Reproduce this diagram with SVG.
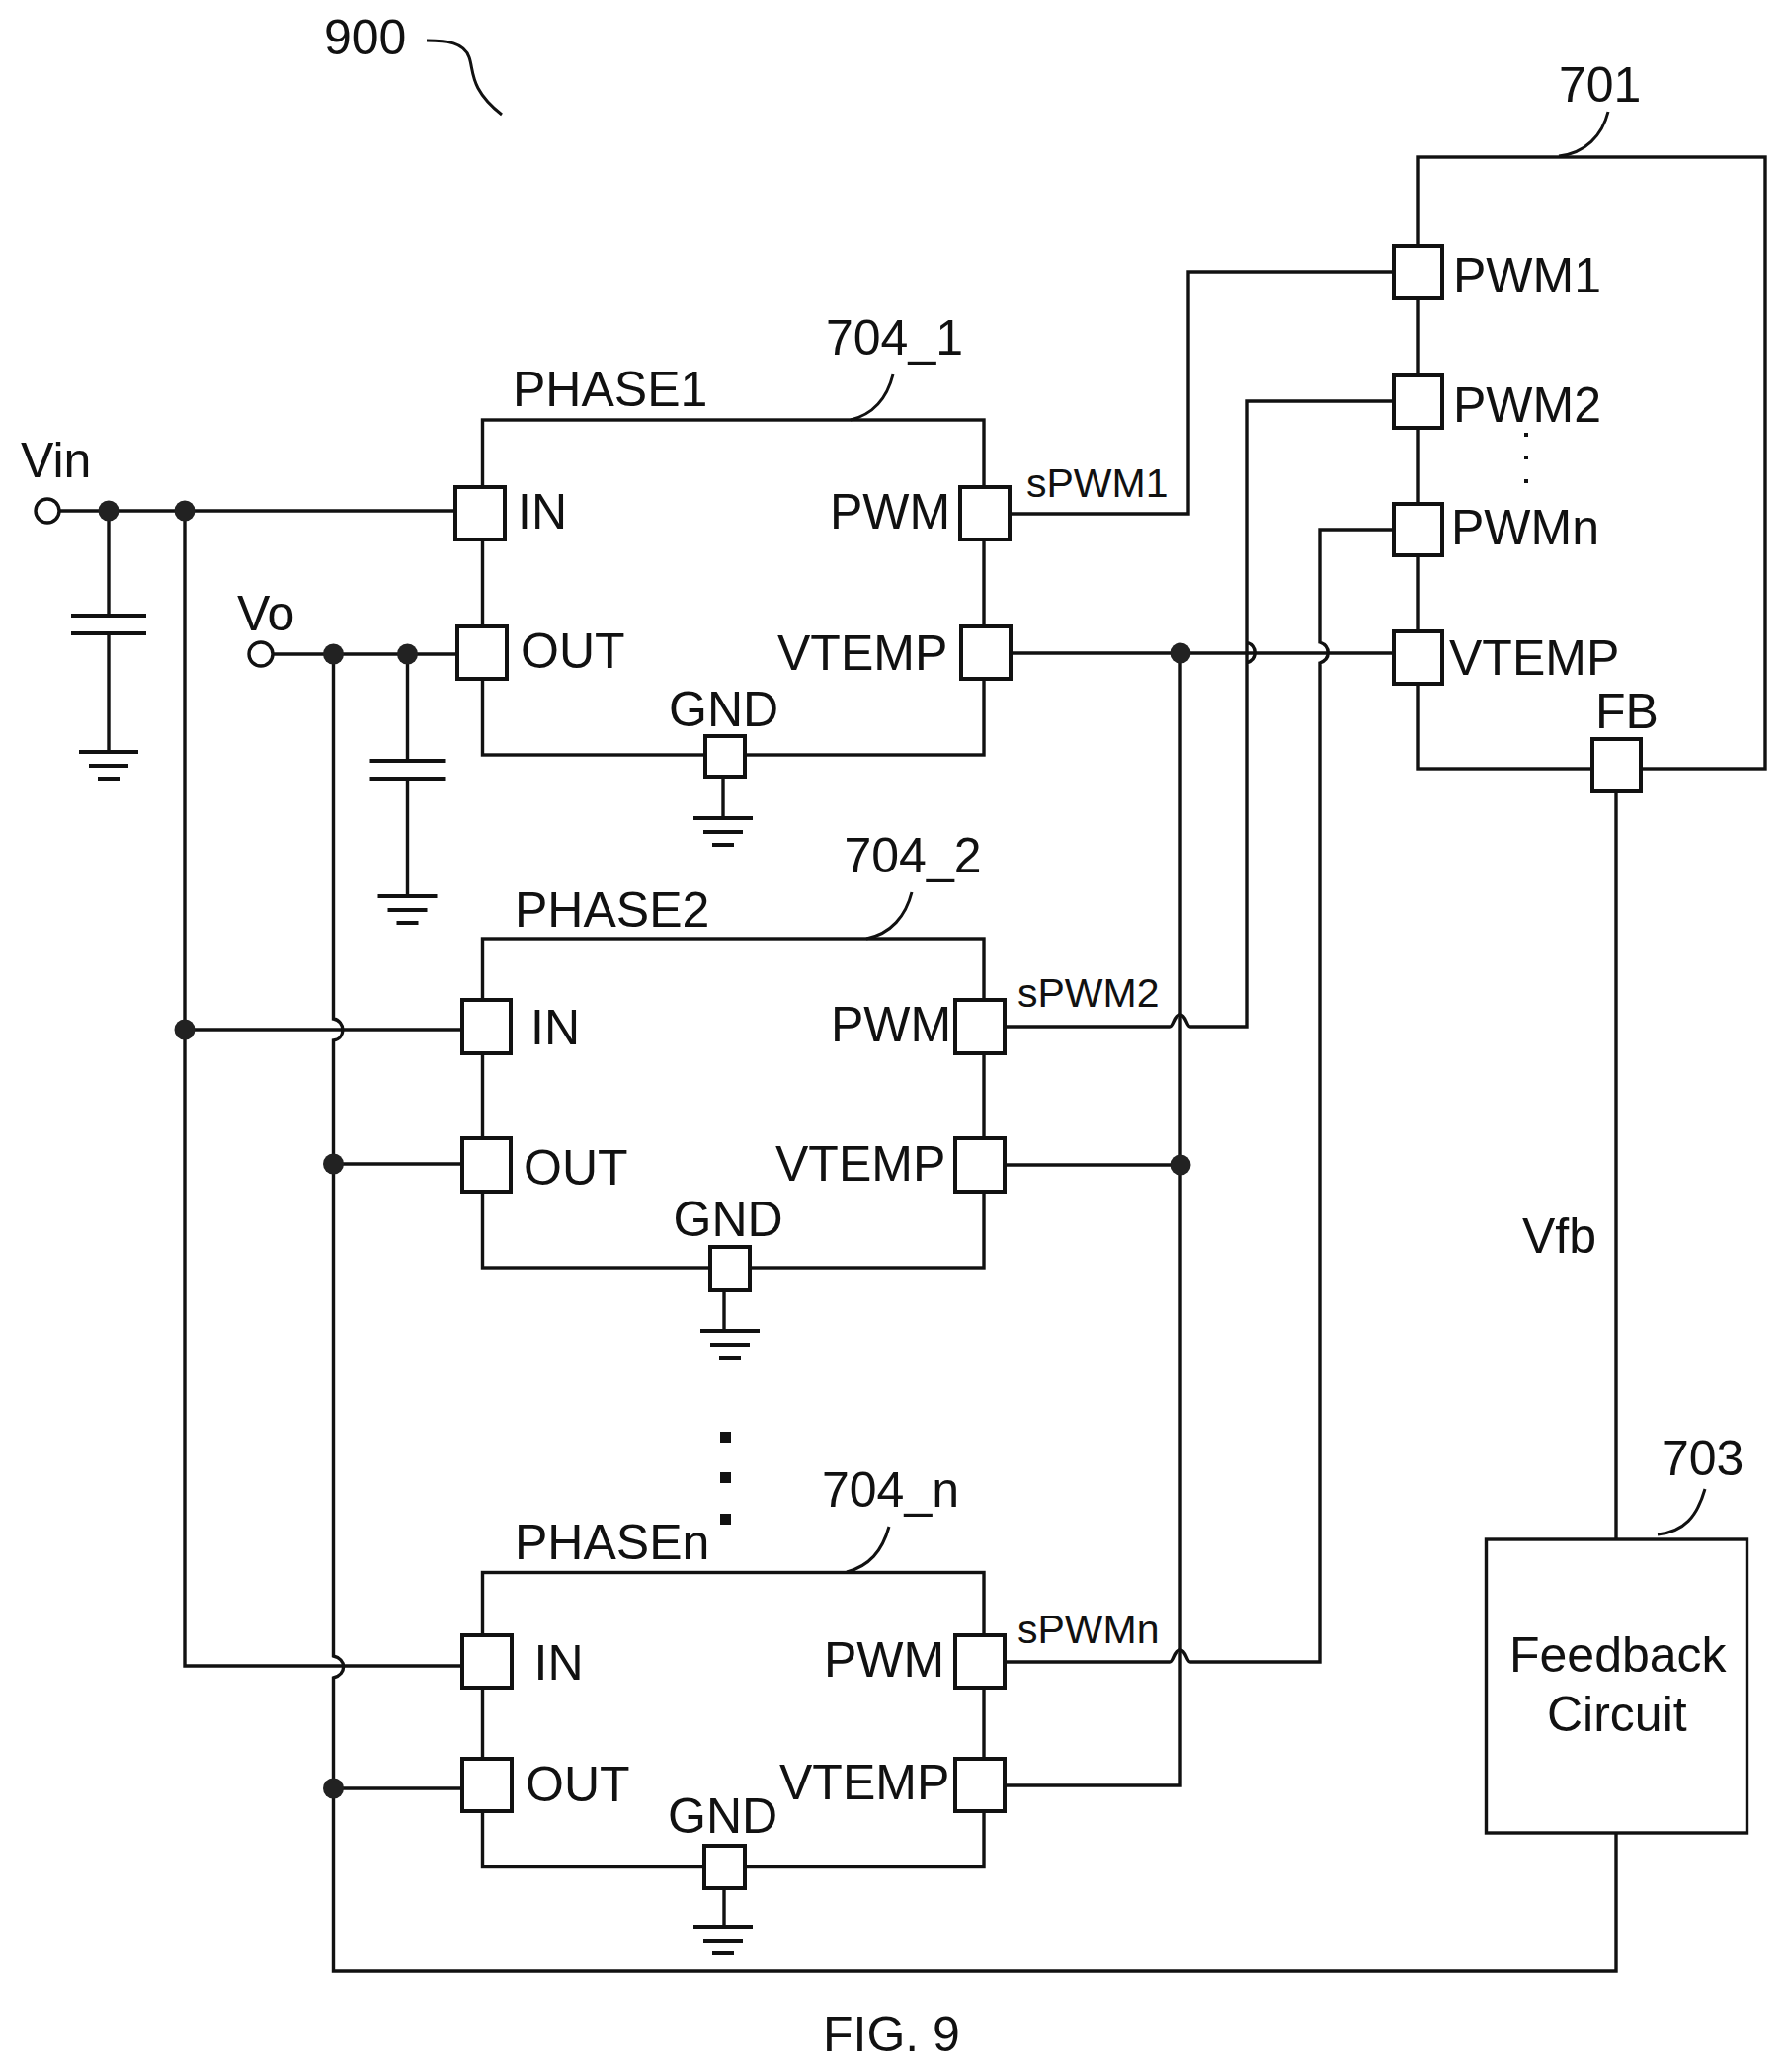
<svg xmlns="http://www.w3.org/2000/svg" width="1809" height="2097" viewBox="0 0 1809 2097">
<style>
text{font-family:"Liberation Sans",Arial,sans-serif;font-size:50px;fill:#111}
text.s{font-size:41px}
.w{fill:none;stroke:#111;stroke-width:3.4;stroke-linejoin:miter}
.l{fill:none;stroke:#111;stroke-width:3}
.p{fill:#fff;stroke:#111;stroke-width:4}
.j{fill:#222;stroke:none}
.t{fill:#fff;stroke:#111;stroke-width:3.4}
.g{fill:none;stroke:#111;stroke-width:4}
.d{fill:#111}
</style>
<defs>
<g id="gnd"><path class="g" d="M-30,0H30M-20,14H20M-11,27H11"/></g>
<g id="cap"><path class="g" d="M-38,0H38M-38,18H38"/></g>
</defs>
<rect width="1809" height="2097" fill="#fff"/>
<g id="connectors">
<path class="w" d="M60,517H461"/>
<path class="w" d="M110,517V623M110,641V761"/>
<path class="w" d="M187,517V1686H468"/>
<path class="w" d="M187,1042H468"/>
<path class="w" d="M277,662H463"/>
<path class="w" d="M412.500,662V770M412.500,788V907"/>
<path class="w" d="M337.500,662V1031C349.500,1033 350.500,1051 337.500,1053V1676C350.500,1679 351.500,1694 337.500,1698V1995H1636V1855"/>
<path class="w" d="M337.500,1178H468M337.500,1810H468"/>
<path class="w" d="M1020,520H1203V275H1410"/>
<path class="w" d="M1021,661H1410"/>
<path class="w" d="M1195,661V1807H1016"/>
<path class="w" d="M1016,1179H1195"/>
<path class="w" d="M1016,1039H1184C1188,1039 1188,1027 1194.500,1027C1201,1027 1201,1039 1205,1039H1262V650C1273,654 1273,667 1262,671V406H1410"/>
<path class="w" d="M1016,1682H1184C1188,1682 1188,1670 1194.500,1670C1201,1670 1201,1682 1205,1682H1336V671C1347,667 1347,654 1336,650V536H1410"/>
<path class="w" d="M1636,801V1558"/>
<path class="w" d="M732,787V827M733,1306V1345M733,1911V1950"/>
<ellipse class="j" cx="110" cy="517" rx="10.500" ry="10.500"/>
<ellipse class="j" cx="187" cy="517" rx="10.500" ry="10.500"/>
<ellipse class="j" cx="337.500" cy="662" rx="10.500" ry="10.500"/>
<ellipse class="j" cx="412.500" cy="662" rx="10.500" ry="10.500"/>
<ellipse class="j" cx="1195" cy="661" rx="10.500" ry="10.500"/>
<ellipse class="j" cx="187" cy="1042" rx="10.500" ry="10.500"/>
<ellipse class="j" cx="337.500" cy="1178" rx="10.500" ry="10.500"/>
<ellipse class="j" cx="1195" cy="1179" rx="10.500" ry="10.500"/>
<ellipse class="j" cx="337.500" cy="1810" rx="10.500" ry="10.500"/>
</g>
<g id="vin">
<ellipse class="t" cx="48" cy="517" rx="12" ry="12"/>
<text x="21" y="483">Vin</text>
<use href="#cap" x="110" y="623"/>
<use href="#gnd" x="110" y="761"/>
</g>
<g id="vo">
<ellipse class="t" cx="264" cy="662" rx="12" ry="12"/>
<text x="240" y="638">Vo</text>
<use href="#cap" x="412.500" y="770"/>
<use href="#gnd" x="412.500" y="907"/>
</g>
<g id="ref900">
<text x="328" y="55">900</text>
<path class="l" d="M432,41C452,41 470,43 475,58C480,72 475,90 508,116"/>
</g>
<g id="phase1">
<rect class="w" x="488.500" y="425" width="507.500" height="339"/>
<rect class="p" x="461" y="493" width="50" height="53"/>
<rect class="p" x="463" y="634" width="50" height="53"/>
<rect class="p" x="972" y="493" width="50" height="53"/>
<rect class="p" x="973" y="634" width="50" height="53"/>
<rect class="p" x="714" y="745" width="40" height="41"/>
<use href="#gnd" x="732" y="828"/>
<text x="519" y="411">PHASE1</text>
<text x="836" y="359">704_1</text>
<path class="l" d="M904,379C898,403 885,419 861,425"/>
<text x="524" y="535">IN</text>
<text x="527" y="676">OUT</text>
<text x="840" y="535">PWM</text>
<text x="787" y="678">VTEMP</text>
<text x="677" y="735">GND</text>
<text class="s" x="1039" y="503">sPWM1</text>
</g>
<g id="phase2">
<rect class="w" x="488.500" y="950" width="507.500" height="333"/>
<rect class="p" x="468" y="1012" width="49" height="54"/>
<rect class="p" x="468" y="1152" width="49" height="54"/>
<rect class="p" x="967" y="1012" width="50" height="54"/>
<rect class="p" x="967" y="1152" width="50" height="54"/>
<rect class="p" x="719" y="1262" width="40" height="44"/>
<use href="#gnd" x="739" y="1347"/>
<text x="521" y="938">PHASE2</text>
<text x="854.500" y="883">704_2</text>
<path class="l" d="M923,903C917,927 902,945 877,950"/>
<text x="537" y="1057">IN</text>
<text x="530" y="1199">OUT</text>
<text x="841" y="1054">PWM</text>
<text x="785" y="1195">VTEMP</text>
<text x="681.500" y="1251">GND</text>
<text class="s" x="1030" y="1019">sPWM2</text>
</g>
<g id="phasen">
<rect class="w" x="488.500" y="1591.500" width="507.500" height="298"/>
<rect class="p" x="468" y="1655" width="50" height="53"/>
<rect class="p" x="468" y="1780" width="50" height="53"/>
<rect class="p" x="967" y="1655" width="50" height="53"/>
<rect class="p" x="967" y="1780" width="50" height="53"/>
<rect class="p" x="713" y="1868" width="41" height="43"/>
<use href="#gnd" x="732" y="1950"/>
<text x="521" y="1578">PHASEn</text>
<text x="832" y="1525">704_n</text>
<path class="l" d="M900,1545C893,1570 880,1585 857,1591"/>
<text x="540.500" y="1700">IN</text>
<text x="532" y="1823">OUT</text>
<text x="834" y="1697">PWM</text>
<text x="789" y="1821">VTEMP</text>
<text x="676" y="1855">GND</text>
<text class="s" x="1030" y="1663">sPWMn</text>
</g>
<g id="ellipsis">
<rect class="d" x="729" y="1449" width="11" height="11"/>
<rect class="d" x="729" y="1490" width="11" height="11"/>
<rect class="d" x="729" y="1532" width="11" height="11"/>
</g>
<g id="controller701">
<rect class="w" x="1435" y="159" width="352" height="619"/>
<rect class="p" x="1411" y="249" width="49" height="53"/>
<rect class="p" x="1411" y="380" width="49" height="53"/>
<rect class="p" x="1411" y="510" width="49" height="52"/>
<rect class="p" x="1411" y="639" width="49" height="53"/>
<rect class="p" x="1612" y="748" width="49" height="53"/>
<text x="1578" y="103">701</text>
<path class="l" d="M1628,113C1622,137 1605,155 1578,158"/>
<text x="1471" y="296">PWM1</text>
<text x="1471" y="427">PWM2</text>
<text x="1469" y="551">PWMn</text>
<text x="1467" y="683">VTEMP</text>
<text x="1615" y="737">FB</text>
<rect class="d" x="1543" y="438" width="4" height="4"/>
<rect class="d" x="1543" y="461" width="4" height="4"/>
<rect class="d" x="1543" y="485" width="4" height="4"/>
<text x="1541" y="1268">Vfb</text>
</g>
<g id="feedback703">
<rect class="w" x="1504.500" y="1558" width="264" height="297"/>
<text x="1682" y="1493">703</text>
<path class="l" d="M1726,1507C1718,1535 1705,1550 1678,1553"/>
<text x="1528" y="1692">Feedback</text>
<text x="1566" y="1752">Circuit</text>
</g>
<text x="833" y="2076">FIG. 9</text>
</svg>
